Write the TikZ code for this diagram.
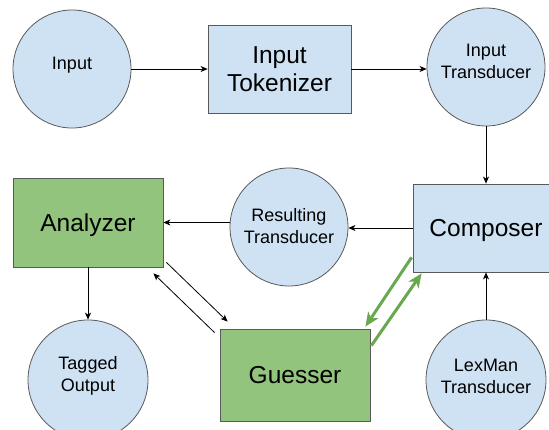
\documentclass[tikz,border=0pt]{standalone}
\usepackage{fontspec}
\setmainfont{Liberation Sans}
\usetikzlibrary{arrows.meta,calc}
\definecolor{paleblue}{HTML}{CFE2F3}
\definecolor{leaf}{HTML}{93C47D}
\definecolor{edgegray}{HTML}{595959}
\definecolor{linkgreen}{HTML}{6AA84F}

\begin{document}
\begin{tikzpicture}[x=1pt,y=-1pt,
  roundnode/.style={circle, draw=edgegray, fill=paleblue, line width=0.8pt,
    minimum size=118pt, inner sep=0pt},
  circtext/.style={align=center, inner sep=0pt,
    font=\fontsize{18}{22}\selectfont},
  blockbox/.style={rectangle, draw=edgegray, line width=0.8pt, inner sep=0pt,
    align=center, font=\fontsize{24.5}{28}\selectfont},
  bluebox/.style={blockbox, fill=paleblue},
  greenbox/.style={blockbox, fill=leaf},
  flow/.style={-{Stealth[length=7pt,width=6pt,inset=2pt]}, line width=0.8pt, black},
  greenflow/.style={-{Stealth[length=14pt,width=12pt,inset=4pt]}, line width=3pt, linkgreen},
]
\useasboundingbox (0,0) rectangle (549,430);
\clip (0,0) rectangle (549,430);
\fill[white] (0,0) rectangle (549,430);

% pipeline stages
\node[roundnode, label={[circtext, yshift=3.5pt]center:Input}] (inp) at (72,69) {};
\node[bluebox, minimum width=143pt, minimum height=88pt] (tok) at (279.5,69) {Input\\Tokenizer};
\node[roundnode, label={[circtext, yshift=6pt]center:{Input\\Transducer}}] (itr) at (486,67) {};
\node[bluebox, minimum width=146pt, minimum height=88pt, text depth=0pt] (comp) at (486,228) {Composer};
\node[roundnode, label={[circtext, yshift=1pt]center:{Resulting\\Transducer}}] (res) at (289,227) {};
\node[greenbox, minimum width=150pt, minimum height=89pt, text depth=0pt] (ana) at (88,222.5) {Analyzer};
\node[roundnode, minimum size=120pt, label={[circtext, yshift=4pt]center:{Tagged\\Output}}] (tag) at (88,380) {};
\node[greenbox, minimum width=150pt, minimum height=92pt] (gue) at (295,375) {Guesser};
\node[roundnode, minimum size=120pt, label={[circtext, yshift=4pt]center:{LexMan\\Transducer}}] (lex) at (486,380) {};

% data flow
\draw[flow] (inp.east |- tok.west) -- (tok.west);
\draw[flow] (tok.east) -- (tok.east -| itr.west);
\draw[flow] (itr) -- (comp);
\draw[flow] (lex) -- (comp);
\draw[flow] (comp.west) -- (comp.west -| res.east);
\draw[flow] (res.west |- ana.east) -- (ana.east);
\draw[flow] (ana.south) -- (ana.south |- tag.north);

% analyzer <-> guesser
\draw[flow] ($(ana.south east)+(3,-5)$) -- ($(gue.north west)+(8,-7)$);
\draw[flow] ($(gue.north west)+(-5,4)$) -- ($(ana.south east)+(-10,6)$);

% guesser <-> composer
\draw[greenflow] ($(comp.south west)+(-1,-15)$) -- ($(gue.north east)+(-5,-2)$);
\draw[greenflow] ($(gue.north east)+(1,17)$) -- ($(comp.south west)+(9,1)$);
\end{tikzpicture}
\end{document}
